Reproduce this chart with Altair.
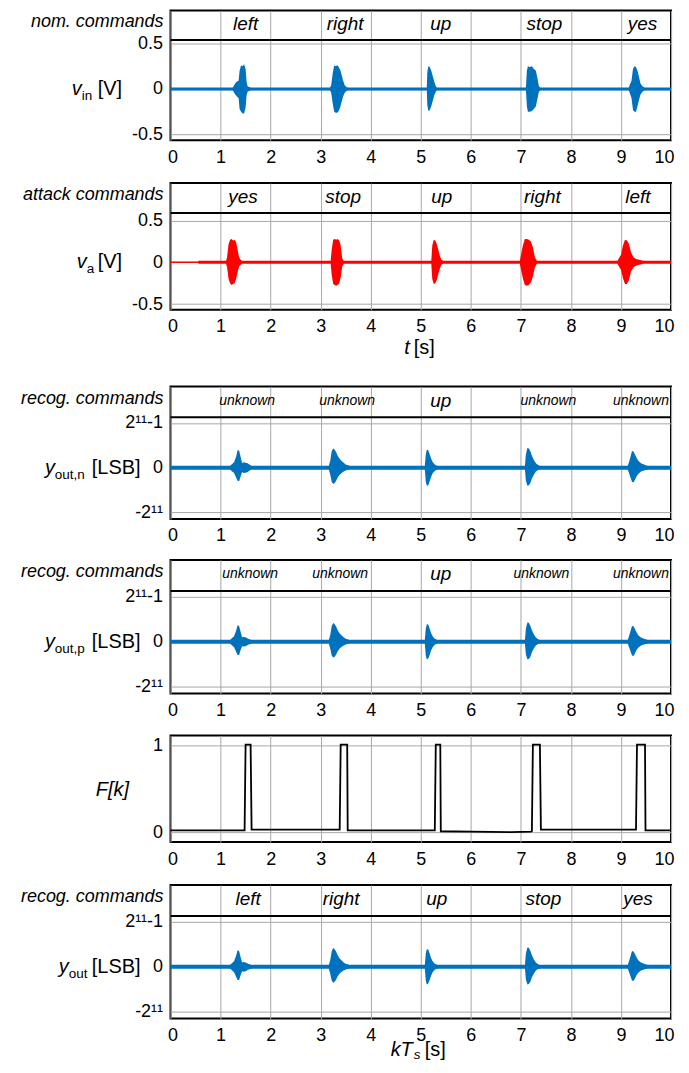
import altair as alt
import pandas as pd

FONT = "Liberation Sans"
BLUE = "#0072BD"
RED = "#FF0000"
GRIDC = "#a8a8a8"

X_TICKS = list(range(0, 11))

# ---------------- Panel 1: nominal commands, v_in [V] ----------------
p1_words = ["left", "right", "up", "stop", "yes"]
p1_word_t = [1.50, 3.49, 5.40, 7.47, 9.43]
p1_t = [0.00,
        1.24, 1.28, 1.32, 1.36, 1.38, 1.41, 1.44, 1.47, 1.50, 1.52, 1.54, 1.58, 1.62,
        3.18, 3.21, 3.24, 3.27, 3.30, 3.33, 3.36, 3.39, 3.42, 3.45, 3.48, 3.52, 3.56,
        5.12, 5.13, 5.15, 5.18, 5.21, 5.24, 5.27, 5.30, 5.33,
        7.10, 7.12, 7.14, 7.18, 7.22, 7.26, 7.30, 7.33, 7.36, 7.40,
        9.15, 9.18, 9.21, 9.24, 9.27, 9.30, 9.33, 9.36, 9.39, 9.43, 9.48,
        10.00]
p1_hi = [0.008,
         0.012, 0.05, 0.08, 0.09, 0.20, 0.26, 0.25, 0.27, 0.22, 0.08, 0.03, 0.02, 0.008,
         0.008, 0.04, 0.17, 0.26, 0.25, 0.26, 0.24, 0.21, 0.15, 0.09, 0.04, 0.02, 0.008,
         0.008, 0.18, 0.25, 0.24, 0.20, 0.14, 0.08, 0.03, 0.008,
         0.008, 0.20, 0.25, 0.24, 0.25, 0.22, 0.20, 0.12, 0.03, 0.008,
         0.008, 0.05, 0.09, 0.22, 0.25, 0.24, 0.20, 0.13, 0.06, 0.03, 0.01,
         0.008]
p1_lo = [-0.008,
         -0.012, -0.05, -0.08, -0.10, -0.22, -0.25, -0.27, -0.27, -0.20, -0.07, -0.03, -0.02, -0.008,
         -0.008, -0.04, -0.16, -0.25, -0.26, -0.26, -0.24, -0.20, -0.14, -0.08, -0.04, -0.02, -0.008,
         -0.008, -0.17, -0.24, -0.23, -0.19, -0.13, -0.07, -0.03, -0.008,
         -0.008, -0.19, -0.25, -0.25, -0.24, -0.22, -0.19, -0.11, -0.03, -0.008,
         -0.008, -0.05, -0.10, -0.23, -0.25, -0.25, -0.19, -0.12, -0.06, -0.03, -0.01,
         -0.008]

# ---------------- Panel 2: attack commands, v_a [V] ----------------
p2_words = ["yes", "stop", "up", "right", "left"]
p2_word_t = [1.45, 3.45, 5.42, 7.43, 9.34]
p2_t = [0.00, 0.55, 0.56,
        1.11, 1.13, 1.16, 1.19, 1.22, 1.25, 1.28, 1.31, 1.34, 1.37, 1.40, 1.43,
        3.20, 3.22, 3.25, 3.28, 3.31, 3.34, 3.37, 3.40, 3.43, 3.46,
        5.21, 5.23, 5.26, 5.29, 5.32, 5.35, 5.38, 5.41, 5.45,
        6.98, 7.00, 7.04, 7.08, 7.12, 7.16, 7.20, 7.24, 7.28, 7.32,
        8.93, 8.96, 9.00, 9.04, 9.08, 9.12, 9.16, 9.20, 9.25, 9.30, 9.36, 9.45,
        10.00]
p2_hi = [0.004, 0.004, 0.018,
         0.018, 0.06, 0.22, 0.27, 0.28, 0.26, 0.27, 0.24, 0.15, 0.06, 0.03, 0.018,
         0.018, 0.15, 0.27, 0.28, 0.27, 0.28, 0.26, 0.20, 0.05, 0.018,
         0.018, 0.20, 0.27, 0.26, 0.22, 0.15, 0.08, 0.03, 0.018,
         0.018, 0.08, 0.20, 0.28, 0.28, 0.27, 0.25, 0.18, 0.06, 0.018,
         0.018, 0.05, 0.09, 0.20, 0.27, 0.26, 0.22, 0.12, 0.06, 0.04, 0.03, 0.018,
         0.018]
p2_lo = [-0.004, -0.004, -0.018,
         -0.018, -0.06, -0.20, -0.25, -0.27, -0.26, -0.25, -0.20, -0.12, -0.05, -0.03, -0.018,
         -0.018, -0.15, -0.26, -0.27, -0.28, -0.27, -0.25, -0.18, -0.05, -0.018,
         -0.018, -0.20, -0.26, -0.25, -0.21, -0.14, -0.08, -0.03, -0.018,
         -0.018, -0.08, -0.19, -0.27, -0.28, -0.27, -0.24, -0.17, -0.06, -0.018,
         -0.018, -0.05, -0.09, -0.19, -0.26, -0.26, -0.21, -0.11, -0.06, -0.04, -0.03, -0.018,
         -0.018]

# ---------------- Panel 3: recognised (nominal), y_out,n [LSB] ----------------
p3_words = ["unknown", "unknown", "up", "unknown", "unknown"]
p3_word_t = [1.53, 3.53, 5.40, 7.55, 9.40]
p3_t = [0.00,
        1.18, 1.22, 1.27, 1.31, 1.34, 1.37, 1.40, 1.43, 1.46, 1.50, 1.54, 1.59, 1.63,
        3.16, 3.19, 3.22, 3.25, 3.28, 3.31, 3.34, 3.38, 3.42, 3.46, 3.50, 3.56, 3.60,
        5.08, 5.10, 5.12, 5.15, 5.18, 5.21, 5.24, 5.28, 5.32, 5.36,
        7.08, 7.10, 7.13, 7.16, 7.19, 7.22, 7.26, 7.30, 7.35, 7.40,
        9.13, 9.16, 9.19, 9.22, 9.25, 9.28, 9.31, 9.35, 9.40, 9.46, 9.52, 9.56,
        10.00]
p3_hi = [60,
         60, 150, 250, 500, 800, 780, 500, 200, 250, 220, 200, 120, 60,
         60, 300, 750, 880, 820, 700, 550, 400, 300, 220, 150, 100, 60,
         60, 600, 820, 800, 600, 400, 250, 150, 90, 60,
         60, 600, 900, 880, 750, 550, 350, 200, 110, 60,
         60, 250, 500, 760, 740, 600, 450, 300, 200, 150, 90, 60,
         60]
p3_lo = [-60,
         -60, -150, -250, -450, -600, -620, -400, -200, -250, -230, -200, -120, -60,
         -60, -300, -650, -750, -700, -600, -450, -330, -250, -180, -130, -90, -60,
         -60, -650, -830, -800, -600, -400, -250, -150, -90, -60,
         -60, -600, -830, -800, -700, -500, -320, -180, -100, -60,
         -60, -250, -450, -650, -680, -550, -400, -280, -180, -130, -80, -60,
         -60]

# ---------------- Panel 4: recognised (attack), y_out,p [LSB] ----------------
p4_words = ["unknown", "unknown", "up", "unknown", "unknown"]
p4_word_t = [1.59, 3.39, 5.40, 7.41, 9.40]
p4_t = list(p3_t)
p4_hi = [60,
         60, 150, 250, 500, 750, 720, 450, 200, 220, 200, 150, 100, 60,
         60, 300, 700, 850, 800, 680, 520, 380, 280, 200, 140, 90, 60,
         60, 600, 800, 780, 580, 380, 240, 140, 90, 60,
         60, 600, 880, 860, 720, 520, 330, 190, 100, 60,
         60, 250, 480, 720, 700, 580, 430, 280, 190, 140, 90, 60,
         60]
p4_lo = [-60,
         -60, -150, -250, -450, -600, -600, -380, -200, -220, -200, -150, -100, -60,
         -60, -300, -620, -720, -680, -580, -430, -310, -230, -170, -120, -80, -60,
         -60, -620, -800, -760, -580, -380, -240, -140, -90, -60,
         -60, -580, -800, -780, -680, -480, -300, -170, -90, -60,
         -60, -240, -430, -620, -650, -530, -380, -260, -170, -120, -80, -60,
         -60]

# ---------------- Panel 5: F[k] ----------------
p5_t = [0.00, 1.48, 1.50, 1.60, 1.62, 3.38, 3.40, 3.53, 3.54, 5.28, 5.30, 5.39, 5.40,
        6.00, 6.80, 7.20, 7.22, 7.24, 7.38, 7.40, 9.30, 9.32, 9.48, 9.49, 10.00]
p5_f = [0.02, 0.02, 1.01, 1.01, 0.03, 0.03, 1.01, 1.01, 0.02, 0.02, 1.01, 1.01, 0.01,
        0.005, 0.0, 0.005, 0.01, 1.01, 1.01, 0.03, 0.03, 1.01, 1.01, 0.02, 0.02]

# ---------------- Panel 6: recognised, y_out [LSB] ----------------
p6_words = ["left", "right", "up", "stop", "yes"]
p6_word_t = [1.55, 3.41, 5.32, 7.45, 9.34]
p6_t = list(p3_t)
p6_hi = list(p4_hi)
p6_lo = list(p4_lo)

ONE = pd.DataFrame({"a": [0]})


def env(t, hi, lo):
    assert len(t) == len(hi) == len(lo), (len(t), len(hi), len(lo))
    return pd.DataFrame({"t": t, "hi": hi, "lo": lo})


def panel(h, ydom, yvals, yexpr, kind, df, color=None, lw=2, strip=None, left_label=None,
          words=None, word_t=None, word_size=19, title=(), anchor=None, xtitle=()):
    xs = alt.Scale(domain=[0, 10], nice=False, zero=False)
    ys = alt.Scale(domain=ydom, nice=False, zero=False)
    xaxis = alt.Axis(values=X_TICKS, grid=True, ticks=False, domain=False,
                     labelPadding=8, title=None, format="d", labelFlushOffset=3)
    yaxis = alt.Axis(values=yvals, labelExpr=yexpr, grid=True, ticks=False,
                     domain=False, labelPadding=8, title=None)

    def Y(**kw):
        return alt.Y(scale=ys, axis=yaxis, **kw)

    def X(**kw):
        return alt.X(scale=xs, axis=xaxis, **kw)

    def txt(s, x, ydatum, size, italic=False, align="left", dy=0, ypix=None):
        yenc = alt.value(ypix) if ypix is not None else Y(datum=ydatum)
        return alt.Chart(ONE).mark_text(
            text=s, align=align, baseline="middle", font=FONT, fontSize=size,
            fontStyle="italic" if italic else "normal", dy=dy, color="black"
        ).encode(x=alt.value(x), y=yenc)

    layers = []
    if kind == "wave":
        layers.append(alt.Chart(df).mark_area(color=color, opacity=1, interpolate="linear").encode(
            x=X(field="t", type="quantitative"),
            y=Y(field="hi", type="quantitative"),
            y2="lo:Q",
        ))
        layers.append(alt.Chart(ONE).mark_rule(color=color, strokeWidth=lw).encode(y=Y(datum=0)))
    else:
        layers.append(alt.Chart(df).mark_line(color="black", strokeWidth=1.8, interpolate="linear").encode(
            x=X(field="t", type="quantitative"),
            y=Y(field="f", type="quantitative"),
        ))
    if strip is not None:
        layers.append(alt.Chart(ONE).mark_rule(color="black", strokeWidth=2).encode(
            y=Y(datum=strip[0])))
        wdf = pd.DataFrame({"t": word_t, "w": words})
        layers.append(alt.Chart(wdf).mark_text(
            font=FONT, fontStyle="italic", baseline="middle", align="center", color="black", dy=-1
        ).encode(
            x=X(field="t", type="quantitative"),
            y=Y(datum=strip[1]),
            text="w:N",
            size=alt.condition("datum.w == 'unknown'", alt.value(14), alt.value(word_size)),
        ))
        layers.append(txt(left_label, -7, strip[1], 18, italic=True, align="right", dy=-3))
    for (s, x, yd, size, italic, dy) in title:
        layers.append(txt(s, x, yd, size, italic=italic, dy=dy))
    for (s, x, yp, size, italic, align) in xtitle:
        layers.append(txt(s, x, None, size, italic=italic, align=align, ypix=yp))
    if anchor is not None:
        layers.append(alt.Chart(ONE).mark_rule(strokeOpacity=0, color="white").encode(
            x=alt.value(-162), x2=alt.value(0), y=alt.value(anchor)))
    return alt.layer(*layers).properties(width=502, height=h)


V_EXPR = "datum.value > 0 ? '0.5' : (datum.value < 0 ? '-0.5' : '0')"
L_EXPR = "datum.value > 0 ? '2\u00b9\u00b9-1' : (datum.value < 0 ? '-2\u00b9\u00b9' : '0')"
F_EXPR = "datum.value > 0.5 ? '1' : '0'"
LSB_DOM = [-2353, 3717]

p1 = panel(130, [-0.561, 0.859], [-0.5, 0, 0.5], V_EXPR, "wave",
           env(p1_t, p1_hi, p1_lo), BLUE, 3,
           strip=(0.537, 0.698), left_label="nom. commands",
           words=p1_words, word_t=p1_word_t,
           title=[("v", -99, 0, 20, True, 0), ("in", -89, 0, 13.5, False, 7),
                  ("[V]", -73, 0, 20, False, 0)],
           anchor=130 + 41)

p2 = panel(127, [-0.566, 0.947], [-0.5, 0, 0.5], V_EXPR, "wave",
           env(p2_t, p2_hi, p2_lo), RED, 1.5,
           strip=(0.589, 0.768), left_label="attack commands",
           words=p2_words, word_t=p2_word_t,
           title=[("v", -94, 0, 20, True, 0), ("a", -84, 0, 13.5, False, 7),
                  ("[V]", -73, 0, 20, False, 0)],
           xtitle=[("t", 240, 127 + 38, 20, True, "right"), ("[s]", 244, 127 + 38, 20, False, "left")],
           anchor=127 + 75)

p3 = panel(133, LSB_DOM, [-2048, 0, 2047], L_EXPR, "wave",
           env(p3_t, p3_hi, p3_lo), BLUE, 4,
           strip=(2307, 3012), left_label="recog. commands",
           words=p3_words, word_t=p3_word_t,
           title=[("y", -126, 0, 20, True, 0), ("out,n", -116, 0, 13.5, False, 7),
                  ("[LSB]", -79, 0, 20, False, 0)],
           anchor=133 + 39)

p4 = panel(134, LSB_DOM, [-2048, 0, 2047], L_EXPR, "wave",
           env(p4_t, p4_hi, p4_lo), BLUE, 4,
           strip=(2307, 3012), left_label="recog. commands",
           words=p4_words, word_t=p4_word_t,
           title=[("y", -126, 0, 20, True, 0), ("out,p", -116, 0, 13.5, False, 7),
                  ("[LSB]", -79, 0, 20, False, 0)],
           anchor=134 + 40)

p5 = panel(107, [-0.115, 1.115], [0, 1], F_EXPR, "line",
           pd.DataFrame({"t": p5_t, "f": p5_f}),
           title=[("F[k]", -75, 0.48, 20, True, 0)],
           anchor=107 + 41)

p6 = panel(134, LSB_DOM, [-2048, 0, 2047], L_EXPR, "wave",
           env(p6_t, p6_hi, p6_lo), BLUE, 4,
           strip=(2307, 3012), left_label="recog. commands",
           words=p6_words, word_t=p6_word_t,
           title=[("y", -112, 0, 20, True, 0), ("out", -102, 0, 13.5, False, 7),
                  ("[LSB]", -79, 0, 20, False, 0)],
           xtitle=[("kT", 243, 134 + 32, 20, True, "right"), ("s", 244, 134 + 37, 13.5, True, "left"),
                   ("[s]", 255, 134 + 32, 20, False, "left")])

chart = alt.vconcat(p1, p2, p3, p4, p5, p6, spacing=0).properties(
    padding={"left": 0, "top": 0, "right": 5, "bottom": 5}
).configure_view(
    stroke="black", strokeWidth=2
).configure_axis(
    labelFont=FONT, labelFontSize=18, labelColor="black",
    gridColor=GRIDC, gridWidth=1, gridOpacity=1
)

chart.save("out.html", embed_options={"renderer": "svg", "actions": False})
